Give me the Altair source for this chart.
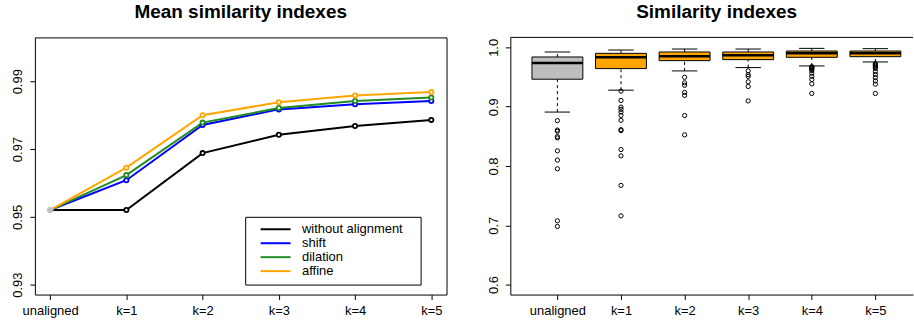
import altair as alt
import pandas as pd

FONT = "Liberation Sans"

# ---------------- data: left panel (mean similarity indexes) ----------------
categories = ["unaligned", "k=1", "k=2", "k=3", "k=4", "k=5"]
series_names = ["without alignment", "shift", "dilation", "affine"]
series_colors = ["#000000", "#0000FF", "#228B22", "#FFA500"]
mean_without = [0.9520, 0.9520, 0.9688, 0.9742, 0.9768, 0.9786]
mean_shift = [0.9520, 0.9608, 0.9771, 0.9817, 0.9832, 0.9842]
mean_dilation = [0.9520, 0.9623, 0.9778, 0.9821, 0.9842, 0.9852]
mean_affine = [0.9520, 0.9645, 0.9800, 0.9838, 0.9858, 0.9868]
unaligned_mean = [0.9520]

left_y_ticks = [0.93, 0.94, 0.95, 0.96, 0.97, 0.98, 0.99, 1.00]
left_y_labels = ["0.93", "", "0.95", "", "0.97", "", "0.99", "1"]

# ---------------- data: right panel (similarity index boxplots) ----------------
box_whisker_low = [0.8909, 0.9278, 0.9603, 0.9659, 0.9687, 0.9754]
box_q1 = [0.9463, 0.9642, 0.9776, 0.9793, 0.9832, 0.9843]
box_median = [0.9737, 0.9832, 0.9849, 0.9866, 0.9899, 0.9899]
box_q3 = [0.9838, 0.9899, 0.9922, 0.9922, 0.9938, 0.9938]
box_whisker_high = [0.9922, 0.9955, 0.9972, 0.9972, 0.9983, 0.9978]
box_fill = ["#BEBEBE", "#FFA500", "#FFA500", "#FFA500", "#FFA500", "#FFA500"]

out_unaligned = [0.8765, 0.8605, 0.8585, 0.8495, 0.8473, 0.8255, 0.8099, 0.7953, 0.7075, 0.6980]
out_k1 = [0.9262, 0.9105, 0.8993, 0.8955, 0.8909, 0.8853, 0.8770, 0.8613, 0.8596, 0.8277, 0.8171, 0.7673, 0.7159]
out_k2 = [0.9495, 0.9402, 0.9360, 0.9240, 0.9190, 0.8850, 0.8525]
out_k3 = [0.9605, 0.9540, 0.9510, 0.9420, 0.9340, 0.9097]
out_k4 = [0.9675, 0.9665, 0.9655, 0.9645, 0.9630, 0.9610, 0.9564, 0.9513, 0.9458, 0.9385, 0.9223]
out_k5 = [0.9725, 0.9710, 0.9695, 0.9680, 0.9665, 0.9645, 0.9592, 0.9542, 0.9491, 0.9435, 0.9379, 0.9223]

right_y_ticks = [0.6, 0.7, 0.8, 0.9, 1.0]
right_y_labels = ["0.6", "0.7", "0.8", "0.9", "1.0"]

# ---------------- tables ----------------
series_values = [mean_without, mean_shift, mean_dilation, mean_affine]
rows = []
for s, vals in zip(series_names, series_values):
    for i, v in enumerate(vals):
        rows.append({"series": s, "idx": i, "value": v})
lines_df = pd.DataFrame(rows)
points_df = lines_df[lines_df["idx"] > 0]
gray_df = pd.DataFrame({"idx": [0], "value": unaligned_mean})

box_df = pd.DataFrame({
    "pos": list(range(1, 7)),
    "cat": categories,
    "wl": box_whisker_low, "q1": box_q1, "med": box_median,
    "q3": box_q3, "wh": box_whisker_high, "fill": box_fill,
})
outs = []
for p, lst in enumerate([out_unaligned, out_k1, out_k2, out_k3, out_k4, out_k5], start=1):
    for v in lst:
        outs.append({"pos": p, "value": v})
out_df = pd.DataFrame(outs)

cat_js = "[" + ",".join("'%s'" % c for c in categories) + "]"
lt_js = "[" + ",".join(str(round(v * 100)) for v in left_y_ticks) + "]"
ll_js = "[" + ",".join("'%s'" % l for l in left_y_labels) + "]"
rt_js = "[" + ",".join(str(round(v * 10)) for v in right_y_ticks) + "]"
rl_js = "[" + ",".join("'%s'" % l for l in right_y_labels) + "]"

W_L, H = 413, 258
W_R = 404

axis_common = dict(
    grid=False, tickColor="black", tickSize=5, tickWidth=1,
    labelFont=FONT, labelFontSize=13, labelColor="black", title=None,
    labelOverlap=False,
)

# ---------------- left panel ----------------
xL = alt.X("idx:Q", scale=alt.Scale(domain=[-0.2, 5.2], nice=False, zero=False),
           axis=alt.Axis(values=list(range(6)), labelExpr=cat_js + "[datum.value]",
                         domain=False, labelPadding=5, labelFlush=False, **axis_common))
yL = alt.Y("value:Q", scale=alt.Scale(domain=[0.92706, 1.00294], nice=False, zero=False),
           axis=alt.Axis(values=left_y_ticks,
                         labelExpr=ll_js + "[indexof(" + lt_js + ", round(datum.value*100))]",
                         labelAngle=-90, labelAlign="center", labelBaseline="alphabetic",
                         labelPadding=8, domain=False, minExtent=29, maxExtent=29, **axis_common))

color_scale = alt.Scale(domain=series_names, range=series_colors)

lines = alt.Chart(lines_df).mark_line(strokeWidth=2).encode(
    x=xL, y=yL,
    color=alt.Color("series:N", scale=color_scale, sort=series_names,
                    legend=alt.Legend(
                        orient="none", legendX=211, legendY=180,
                        title=" ", titleOrient="right", titlePadding=12, titleFontSize=13,
                        symbolType="M-3,0H3", symbolSize=100, symbolStrokeWidth=2,
                        labelFont=FONT, labelFontSize=13, labelColor="black",
                        padding=6, symbolOffset=18, labelOffset=20, rowPadding=-2.2,
                        strokeColor="black", fillColor="white", cornerRadius=0)),
    order=alt.Order("idx:Q"),
)
pts = alt.Chart(points_df).mark_point(shape="circle", fill="white", fillOpacity=1, opacity=1,
                                      size=18, strokeWidth=1.8).encode(
    x="idx:Q", y="value:Q",
    stroke=alt.Stroke("series:N", scale=color_scale, legend=None),
)
gray_pt = alt.Chart(gray_df).mark_point(shape="circle", filled=True, color="#BEBEBE",
                                        opacity=1, size=40).encode(x="idx:Q", y="value:Q")

left = alt.layer(lines, pts, gray_pt).properties(
    width=W_L, height=H,
    title=alt.TitleParams("Mean similarity indexes", font=FONT, fontSize=19, fontWeight="bold",
                          anchor="middle", frame="group", baseline="alphabetic", offset=0,
                          color="black"),
)

# ---------------- right panel ----------------
xR_scale = alt.Scale(domain=[0.26, 0.26 + W_R / 63.81], nice=False, zero=False)
yR_scale = alt.Scale(domain=[0.5832, 1.0168], nice=False, zero=False)
xR = alt.X("pos:Q", scale=xR_scale,
           axis=alt.Axis(values=list(range(1, 7)), labelExpr=cat_js + "[datum.value-1]",
                         domain=True, domainColor="black", domainWidth=1,
                         labelPadding=5, labelFlush=False, **axis_common))
yR_axis = alt.Axis(values=right_y_ticks,
                   labelExpr=rl_js + "[indexof(" + rt_js + ", round(datum.value*10))]",
                   labelAngle=-90, labelAlign="center", labelBaseline="alphabetic",
                   labelPadding=8, domain=True, domainColor="black", domainWidth=1,
                   minExtent=29, maxExtent=29, **axis_common)

base = alt.Chart(box_df).transform_calculate(
    xl="datum.pos - 0.4", xr="datum.pos + 0.4", cl="datum.pos - 0.2", cr="datum.pos + 0.2")

wlow = base.mark_rule(color="black", strokeWidth=1, strokeDash=[3, 3]).encode(
    x=xR, y=alt.Y("wl:Q", scale=yR_scale, axis=yR_axis), y2="q1:Q")
whigh = base.mark_rule(color="black", strokeWidth=1, strokeDash=[3, 3]).encode(
    x="pos:Q", y="q3:Q", y2="wh:Q")
cap_low = base.mark_rule(color="black", strokeWidth=1).encode(
    x="cl:Q", x2="cr:Q", y="wl:Q")
cap_high = base.mark_rule(color="black", strokeWidth=1).encode(
    x="cl:Q", x2="cr:Q", y="wh:Q")
boxes = base.mark_rect(stroke="black", strokeWidth=1).encode(
    x="xl:Q", x2="xr:Q", y="q1:Q", y2="q3:Q",
    fill=alt.Fill("fill:N", scale=None))
medians = base.mark_rule(color="black", strokeWidth=2.5).encode(
    x="xl:Q", x2="xr:Q", y="med:Q")
outliers = alt.Chart(out_df).mark_point(shape="circle", filled=False, color="black",
                                        opacity=1, size=18, strokeWidth=1).encode(
    x="pos:Q", y="value:Q")
top_border = alt.Chart(pd.DataFrame({"a": [0]})).mark_rule(color="black", strokeWidth=1).encode(
    y=alt.value(0))

right = alt.layer(wlow, whigh, cap_low, cap_high, boxes, medians, outliers, top_border).properties(
    width=W_R, height=H,
    view=alt.ViewBackground(stroke=None),
    title=alt.TitleParams("Similarity indexes", font=FONT, fontSize=19, fontWeight="bold",
                          anchor="middle", frame="group", baseline="alphabetic", offset=0,
                          dx=5, color="black"),
)

chart = alt.hconcat(left, right, spacing=34).properties(
    padding={"left": 5, "right": 0, "top": 2, "bottom": 0},
    background="white",
).configure_view(stroke="black", strokeWidth=1)

chart.save("out.html", embed_options={"renderer": "svg", "actions": False})
